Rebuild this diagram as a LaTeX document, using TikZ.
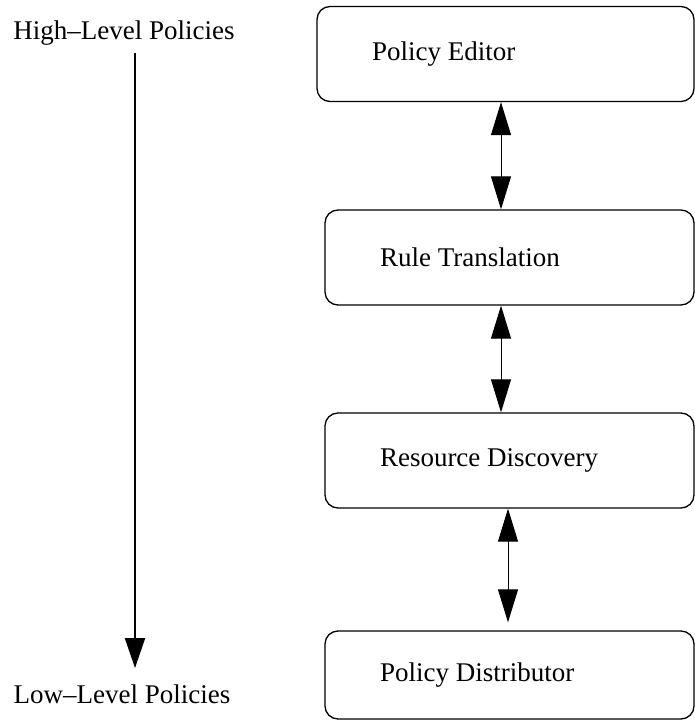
\documentclass[tikz,border=0pt]{standalone}
\usepackage{fontspec}
\setmainfont{Liberation Serif}
\usetikzlibrary{arrows.meta}

\tikzset{
	module/.style={draw, line width=1.3pt, rounded corners=13pt, align=flush left, inner xsep=55pt, text width=#1, minimum height=95pt, font=\fontsize{27}{32}\selectfont},
	link/.style={line width=1pt, {Triangle[length=33pt,width=20pt]}-{Triangle[length=33pt,width=20pt]}},
	flow/.style={line width=2pt, -{Triangle[length=30pt,width=20pt]}},
	level/.style={inner sep=0pt, anchor=base, font=\fontsize{27}{32}\selectfont}
}

\begin{document}
\begin{tikzpicture}[x=1pt,y=-1pt]
	\useasboundingbox (0,0) rectangle (695,722);
	\node[module=267pt] (editor) at (505.5,54) {Policy Editor};
	\node[module=259pt] (rules) at (509.5,257.5) {Rule Translation};
	\node[module=259pt] (discovery) at (509.5,460.5) {Resource Discovery};
	\node[module=259pt, minimum height=88pt] (distributor) at (509.5,675) {Policy Distributor};
	\node[level] (high) at (124,40) {High--Level Policies};
	\node[level] (low) at (122,703) {Low--Level Policies};
	\draw[link] ([xshift=-4.5pt]editor.south) -- ([xshift=-8.5pt]rules.north);
	\draw[link] ([xshift=-8.5pt]rules.south) -- ([xshift=-8.5pt]discovery.north);
	\draw[link, shorten >=8pt] ([xshift=-1.5pt]discovery.south) -- ([xshift=-1.5pt]distributor.north);
	\draw[flow, shorten <=7pt, shorten >=16pt] ([xshift=11pt]high.south) -- ([xshift=13pt]low.north);
\end{tikzpicture}
\end{document}
